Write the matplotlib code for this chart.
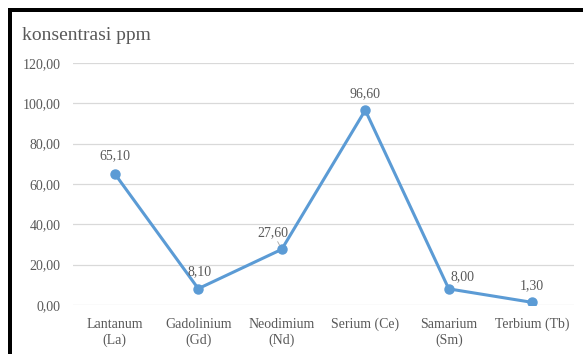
import matplotlib.pyplot as plt
from matplotlib.patches import Rectangle

# Konsentrasi unsur tanah jarang (ppm)
unsur = ["Lantanum\n(La)", "Gadolinium\n(Gd)", "Neodimium\n(Nd)",
         "Serium (Ce)", "Samarium\n(Sm)", "Terbium (Tb)"]
ppm = [65.10, 8.10, 27.60, 96.60, 8.00, 1.30]
y_ticks = [0, 20, 40, 60, 80, 100, 120]

# geseran label data (piksel) ala Excel
label_dx = [0, 1, -9, 0, 14, 0]
label_dy = [18, 17, 17, 17, 12, 17]

plt.rcParams["font.family"] = ["Liberation Serif", "DejaVu Serif"]
GRAY = "#595959"
BLUE = "#5B9BD5"

fig = plt.figure(figsize=(5.83, 3.54), dpi=100)
fig.patch.set_facecolor("white")
ax = fig.add_axes([73 / 583, 1 - 305 / 354, 501 / 583, 242 / 354])

x = range(len(unsur))
ax.plot(x, ppm, color=BLUE, lw=2.2, marker="o", ms=6.5, zorder=3,
        solid_capstyle="round")

for i, v in enumerate(ppm):
    txt = f"{v:.2f}".replace(".", ",")
    if label_dx[i] < 0:
        ax.annotate(txt, (i, v), xytext=(label_dx[i], label_dy[i]),
                    textcoords="offset pixels", ha="center", va="center",
                    fontsize=10, color=GRAY,
                    arrowprops=dict(arrowstyle="-", color="#A6A6A6", lw=0.6,
                                    shrinkA=0, shrinkB=3))
    else:
        ax.annotate(txt, (i, v), xytext=(label_dx[i], label_dy[i]),
                    textcoords="offset pixels", ha="center", va="center",
                    fontsize=10, color=GRAY)

ax.set_xlim(-0.5, len(unsur) - 0.5)
ax.set_ylim(0, 120)
ax.set_yticks(y_ticks)
ax.set_yticklabels([f"{t:.2f}".replace(".", ",") for t in y_ticks])
ax.set_xticks(list(x))
ax.set_xticklabels(unsur, linespacing=1.25)
ax.tick_params(axis="both", length=0, labelsize=10, labelcolor=GRAY)
ax.tick_params(axis="x", pad=9)
ax.tick_params(axis="y", pad=9)
ax.grid(axis="y", color="#D9D9D9", lw=0.9)
ax.set_axisbelow(True)
for s in ax.spines.values():
    s.set_visible(False)

fig.text(22 / 583, 1 - 36 / 354, "konsentrasi ppm", fontsize=14,
         color=GRAY, ha="left", va="center")

# bingkai hitam di kiri dan atas
fig.add_artist(Rectangle((8 / 583, 1 - 11.5 / 354), 1, 3.5 / 354,
                         transform=fig.transFigure, color="black", lw=0))
fig.add_artist(Rectangle((8 / 583, 0), 4 / 583, 1 - 8 / 354,
                         transform=fig.transFigure, color="black", lw=0))

fig.savefig("out.png", dpi=100, facecolor="white")
